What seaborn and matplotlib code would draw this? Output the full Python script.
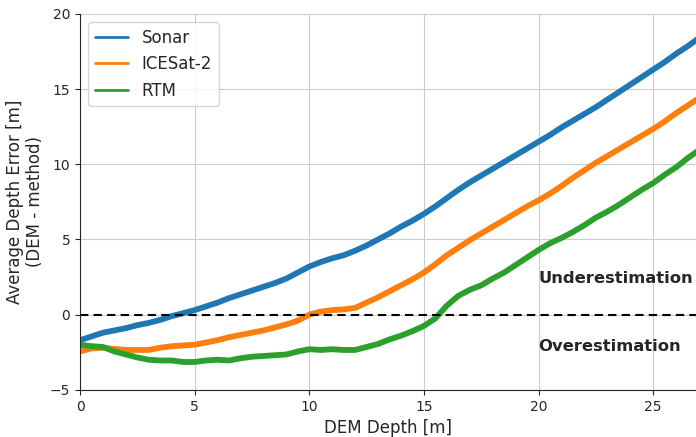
import numpy as np
import pandas as pd
import matplotlib
matplotlib.use("Agg")
import matplotlib.pyplot as plt
import seaborn as sns

depth = [0, 0.5, 1, 1.5, 2, 2.5, 3, 3.5, 4, 4.5, 5, 5.5, 6, 6.5, 7, 7.5, 8, 8.5, 9, 9.5,
         10, 10.5, 11, 11.5, 12, 12.5, 13, 13.5, 14, 14.5, 15, 15.5, 16, 16.5, 17, 17.5,
         18, 18.5, 19, 19.5, 20, 20.5, 21, 21.5, 22, 22.5, 23, 23.5, 24, 24.5, 25, 25.5,
         26, 26.5, 27]
sonar = [-1.7, -1.45, -1.2, -1.05, -0.9, -0.7, -0.55, -0.35, -0.1, 0.1, 0.3, 0.55, 0.8,
         1.1, 1.35, 1.6, 1.85, 2.1, 2.4, 2.8, 3.2, 3.5, 3.75, 3.95, 4.25, 4.6, 5.0, 5.4,
         5.85, 6.25, 6.7, 7.2, 7.75, 8.3, 8.8, 9.25, 9.7, 10.15, 10.6, 11.05, 11.5, 11.95,
         12.45, 12.9, 13.35, 13.8, 14.3, 14.8, 15.3, 15.8, 16.3, 16.8, 17.35, 17.85, 18.4]
icesat = [-2.45, -2.25, -2.2, -2.28, -2.35, -2.35, -2.35, -2.2, -2.1, -2.05, -2.0, -1.85,
          -1.7, -1.5, -1.35, -1.2, -1.05, -0.85, -0.65, -0.4, 0.0, 0.2, 0.3, 0.35, 0.45,
          0.8, 1.15, 1.55, 1.95, 2.35, 2.8, 3.35, 3.95, 4.45, 4.95, 5.4, 5.85, 6.3, 6.75,
          7.2, 7.6, 8.05, 8.55, 9.1, 9.6, 10.1, 10.55, 11.0, 11.45, 11.9, 12.35, 12.85,
          13.4, 13.9, 14.4]
rtm = [-2.0, -2.1, -2.15, -2.45, -2.65, -2.85, -3.0, -3.05, -3.05, -3.15, -3.15, -3.05,
       -3.0, -3.05, -2.9, -2.8, -2.75, -2.7, -2.65, -2.45, -2.3, -2.35, -2.3, -2.35, -2.35,
       -2.15, -1.95, -1.65, -1.4, -1.1, -0.75, -0.25, 0.6, 1.25, 1.65, 1.95, 2.4, 2.8,
       3.3, 3.8, 4.3, 4.75, 5.1, 5.5, 5.95, 6.45, 6.85, 7.3, 7.8, 8.3, 8.75, 9.3, 9.8,
       10.4, 10.95]
methods = ["Sonar", "ICESat-2", "RTM"]
colors = ["#1f77b4", "#ff7f0e", "#2ca02c"]

df = pd.DataFrame({
    "depth": depth * 3,
    "error": sonar + icesat + rtm,
    "method": [methods[0]] * len(depth) + [methods[1]] * len(depth) + [methods[2]] * len(depth),
})

sns.set_style("ticks", {"axes.grid": True, "grid.color": ".8"})
plt.rcParams["font.family"] = ["DejaVu Sans"]

fig = plt.figure(figsize=(6.96, 4.37), dpi=100)
ax = fig.add_axes([0.115, 0.108, 0.885, 0.86])

sns.lineplot(data=df, x="depth", y="error", hue="method", hue_order=methods,
             palette=colors, linewidth=4.2, ax=ax)
ax.axhline(0, color="black", linestyle="--", linewidth=1.5, dashes=(4, 2.5))

ax.text(20.0, 2.4, "Underestimation", fontsize=11.75, fontweight="bold", va="center", ha="left")
ax.text(20.0, -2.1, "Overestimation", fontsize=11.75, fontweight="bold", va="center", ha="left")

ax.set_xlim(0, 26.87)
ax.set_ylim(-5, 20)
ax.set_xticks([0, 5, 10, 15, 20, 25])
ax.set_yticks([-5, 0, 5, 10, 15, 20])
ax.tick_params(labelsize=10)
ax.set_xlabel("DEM Depth [m]", fontsize=12)
ax.set_ylabel("Average Depth Error [m]\n(DEM - method)", fontsize=12)
sns.despine(ax=ax)

leg = ax.legend(loc="upper left", fontsize=12, frameon=True)
for line in leg.get_lines():
    line.set_linewidth(2)

fig.savefig("out.png", dpi=100)
